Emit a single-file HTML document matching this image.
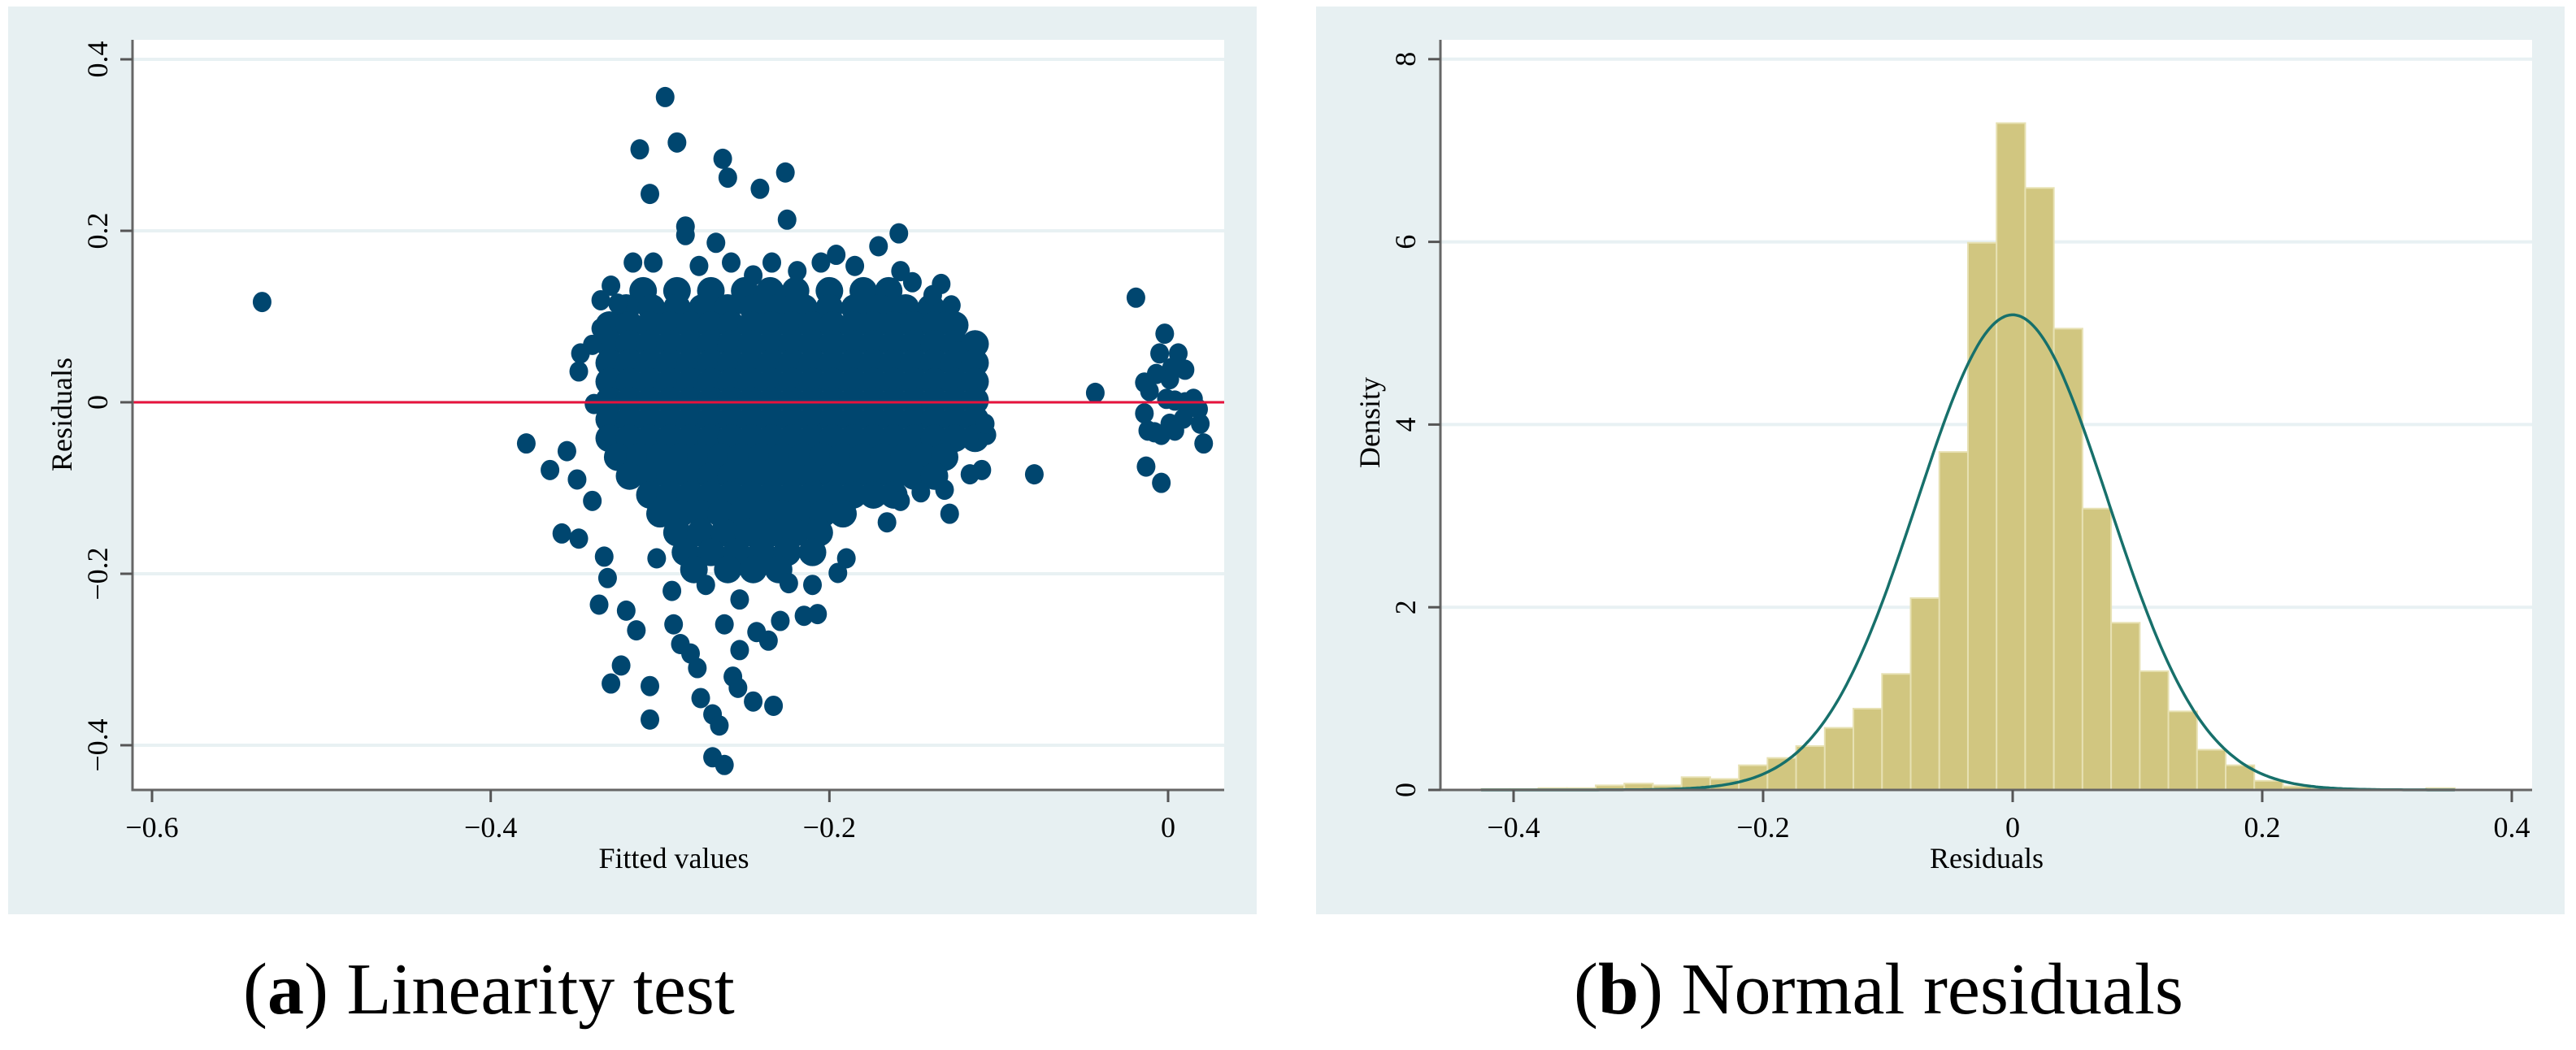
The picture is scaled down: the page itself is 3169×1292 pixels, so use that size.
<!DOCTYPE html>
<html><head><meta charset="utf-8"><style>
html,body{margin:0;padding:0;background:#fff;}
svg{display:block;font-family:"Liberation Serif",serif;}
</style></head><body>
<svg id="fig" width="3169" height="1292" viewBox="0 0 3169 1292" xmlns="http://www.w3.org/2000/svg">
<rect x="10" y="8" width="1536" height="1117" fill="#e7f0f2"/>
<rect x="1619" y="8" width="1536" height="1117" fill="#e7f0f2"/>
<rect x="163" y="49" width="1343" height="923" fill="#ffffff"/>
<rect x="1772" y="49" width="1343" height="923" fill="#ffffff"/>
<g id="left"></g>
<g id="right"></g>
<text x="299" y="1247" font-size="90" fill="#000">(<tspan font-weight="bold">a</tspan>) Linearity test</text>
<text x="1936" y="1247" font-size="90" fill="#000">(<tspan font-weight="bold">b</tspan>) Normal residuals</text>
</svg>
<script>
// ---------- Scatter data (fitted values vs residuals) ----------
const xTicksA = [-0.6, -0.4, -0.2, 0];
const xTickLabelsA = ["\u22120.6", "\u22120.4", "\u22120.2", "0"];
const yTicksA = [-0.4, -0.2, 0, 0.2, 0.4];
const yTickLabelsA = ["\u22120.4", "\u22120.2", "0", "0.2", "0.4"];
const coreResiduals = [0.13, 0.11, 0.09, 0.068, 0.046, 0.024, 0.002, -0.020, -0.042, -0.064, -0.086, -0.108, -0.13, -0.152, -0.175, -0.195];
const coreFitted = [
 [-0.31,-0.29,-0.27,-0.25,-0.235,-0.22,-0.20,-0.18,-0.165],
 [-0.32,-0.305,-0.29,-0.275,-0.26,-0.245,-0.23,-0.215,-0.20,-0.185,-0.17,-0.155,-0.14],
 [-0.33,-0.318,-0.306,-0.294,-0.282,-0.27,-0.258,-0.246,-0.234,-0.222,-0.21,-0.198,-0.186,-0.174,-0.162,-0.15,-0.138,-0.126],
 [-0.33,-0.318,-0.306,-0.294,-0.282,-0.27,-0.258,-0.246,-0.234,-0.222,-0.21,-0.198,-0.186,-0.174,-0.162,-0.15,-0.138,-0.126,-0.114],
 [-0.33,-0.318,-0.306,-0.294,-0.282,-0.27,-0.258,-0.246,-0.234,-0.222,-0.21,-0.198,-0.186,-0.174,-0.162,-0.15,-0.138,-0.126,-0.114],
 [-0.33,-0.318,-0.306,-0.294,-0.282,-0.27,-0.258,-0.246,-0.234,-0.222,-0.21,-0.198,-0.186,-0.174,-0.162,-0.15,-0.138,-0.126,-0.114],
 [-0.33,-0.318,-0.306,-0.294,-0.282,-0.27,-0.258,-0.246,-0.234,-0.222,-0.21,-0.198,-0.186,-0.174,-0.162,-0.15,-0.138,-0.126,-0.114],
 [-0.33,-0.318,-0.306,-0.294,-0.282,-0.27,-0.258,-0.246,-0.234,-0.222,-0.21,-0.198,-0.186,-0.174,-0.162,-0.15,-0.138,-0.126,-0.114],
 [-0.33,-0.318,-0.306,-0.294,-0.282,-0.27,-0.258,-0.246,-0.234,-0.222,-0.21,-0.198,-0.186,-0.174,-0.162,-0.15,-0.138,-0.126,-0.114],
 [-0.325,-0.312,-0.3,-0.288,-0.276,-0.264,-0.252,-0.24,-0.228,-0.216,-0.204,-0.192,-0.18,-0.168,-0.156,-0.144,-0.132],
 [-0.318,-0.306,-0.294,-0.282,-0.27,-0.258,-0.246,-0.234,-0.222,-0.21,-0.198,-0.186,-0.174,-0.162,-0.15,-0.138],
 [-0.306,-0.294,-0.282,-0.27,-0.258,-0.246,-0.234,-0.222,-0.21,-0.198,-0.186,-0.174,-0.162],
 [-0.30,-0.288,-0.276,-0.264,-0.252,-0.24,-0.228,-0.216,-0.204,-0.192],
 [-0.29,-0.276,-0.262,-0.248,-0.234,-0.22,-0.206],
 [-0.285,-0.27,-0.255,-0.24,-0.225,-0.21],
 [-0.28,-0.26,-0.245,-0.23]
];
const outlierPoints = [
 [-0.535,0.117],[-0.297,0.356],[-0.312,0.295],[-0.290,0.303],[-0.263,0.284],[-0.260,0.262],[-0.226,0.268],[-0.241,0.249],
 [-0.306,0.243],[-0.225,0.213],[-0.285,0.195],[-0.285,0.205],[-0.267,0.186],[-0.304,0.163],[-0.316,0.163],[-0.329,0.136],[-0.335,0.119],
 [-0.159,0.197],[-0.171,0.182],[-0.196,0.172],[-0.205,0.163],[-0.234,0.163],[-0.219,0.153],[-0.258,0.163],[-0.277,0.159],
 [-0.245,0.148],[-0.185,0.159],[-0.158,0.153],[-0.151,0.140],[-0.134,0.138],[-0.139,0.125],[-0.128,0.113],[-0.124,0.059],[-0.132,0.094],
 [-0.347,0.057],[-0.348,0.036],[-0.340,0.067],[-0.335,0.086],[-0.325,0.115],[-0.339,-0.002],[-0.379,-0.048],[-0.355,-0.057],
 [-0.365,-0.079],[-0.349,-0.090],[-0.358,-0.153],[-0.348,-0.159],[-0.340,-0.115],[-0.333,-0.180],[-0.331,-0.205],[-0.336,-0.236],
 [-0.320,-0.243],[-0.314,-0.266],[-0.323,-0.307],[-0.306,-0.331],[-0.329,-0.328],[-0.306,-0.370],[-0.288,-0.282],[-0.292,-0.259],
 [-0.282,-0.293],[-0.278,-0.310],[-0.276,-0.345],[-0.269,-0.364],[-0.265,-0.377],[-0.269,-0.414],[-0.262,-0.423],[-0.257,-0.320],
 [-0.254,-0.333],[-0.245,-0.349],[-0.233,-0.354],[-0.236,-0.278],[-0.224,-0.211],[-0.210,-0.213],[-0.215,-0.249],[-0.207,-0.247],
 [-0.195,-0.199],[-0.190,-0.182],[-0.229,-0.255],[-0.253,-0.289],[-0.243,-0.268],[-0.262,-0.259],[-0.253,-0.230],[-0.273,-0.213],
 [-0.293,-0.220],[-0.302,-0.182],[-0.166,-0.140],[-0.158,-0.115],[-0.146,-0.105],[-0.132,-0.102],[-0.129,-0.130],[-0.117,-0.084],
 [-0.110,-0.079],[-0.107,-0.038],[-0.108,-0.025],[-0.079,-0.084],[-0.043,0.011],
 [-0.019,0.122],[-0.002,0.080],[-0.005,0.057],[0.006,0.057],[0.010,0.038],[0.002,0.040],[-0.007,0.033],[-0.014,0.023],
 [-0.011,0.013],[0.001,0.027],[-0.001,0.004],[0.004,0.002],[0.010,0.000],[0.015,0.004],[0.018,-0.008],[-0.014,-0.013],
 [-0.012,-0.033],[-0.008,-0.035],[0.001,-0.025],[0.009,-0.019],[0.019,-0.025],[0.021,-0.048],[-0.013,-0.075],[-0.004,-0.094],
 [-0.004,-0.038],[0.004,-0.033]
];

// ---------- Histogram data ----------
const xTicksB = [-0.4, -0.2, 0, 0.2, 0.4];
const xTickLabelsB = ["\u22120.4", "\u22120.2", "0", "0.2", "0.4"];
const yTicksB = [0, 2, 4, 6, 8];
const yTickLabelsB = ["0", "2", "4", "6", "8"];
const binStart = -0.426;
const binWidth = 0.02295;
const densities = [0.01,0.01,0.02,0.02,0.05,0.07,0.05,0.14,0.12,0.27,0.35,0.48,0.68,0.89,1.27,2.10,3.70,5.99,
                   7.30,6.59,5.05,3.08,1.83,1.30,0.86,0.44,0.27,0.10,0.04,0.02,0.01,0.01,0.00,0.02];
const normalMean = 0.0;
const normalSd = 0.0767;

const NS = "http://www.w3.org/2000/svg";
function mk(tag, attrs, parent) {
  const e = document.createElementNS(NS, tag);
  for (const k in attrs) e.setAttribute(k, attrs[k]);
  parent.appendChild(e);
  return e;
}

// ---------- Left chart ----------
const L = document.getElementById('left');
const axA = { x0: 163, x1: 1506, y0: 49, y1: 972 };
const sxA = v => 1437 + (v - 0) * 2083.3;
const syA = v => 495 - v * 1055;

yTicksA.forEach((t, i) => {
  const g = mk('line', {x1: axA.x0, x2: axA.x1, y1: syA(t), y2: syA(t), stroke: '#e8f1f3', 'stroke-width': 4}, L);
  
  
});
const pts = mk('g', {fill: '#00466f'}, L);


coreResiduals.forEach((r, i) => {
  coreFitted[i].forEach(f => {
    const c = mk('ellipse', {cx: sxA(f), cy: syA(r), rx: 17, ry: 17}, pts);
    
    
  });
});
outlierPoints.forEach(p => {
  const c = mk('ellipse', {cx: sxA(p[0]), cy: syA(p[1]), rx: 11.5, ry: 12.5}, pts);
  
  
});
const zl = mk('line', {x1: axA.x0, x2: axA.x1, y1: syA(0), y2: syA(0), stroke: '#e8123c', 'stroke-width': 3}, L);


const ayA = mk('line', {x1: axA.x0, x2: axA.x0, y1: axA.y0, y2: axA.y1 + 1.5, stroke: '#666', 'stroke-width': 3}, L);


const axxA = mk('line', {x1: axA.x0, x2: axA.x1, y1: axA.y1, y2: axA.y1, stroke: '#666', 'stroke-width': 3}, L);


xTicksA.forEach((t, i) => {
  const tk = mk('line', {x1: sxA(t), x2: sxA(t), y1: axA.y1, y2: axA.y1 + 15, stroke: '#555', 'stroke-width': 3}, L);
  
  
  const tx = mk('text', {x: sxA(t), y: 1030, 'text-anchor': 'middle', 'font-size': 36, fill: '#000'}, L);
  tx.textContent = xTickLabelsA[i];
  
  
});
yTicksA.forEach((t, i) => {
  const tk = mk('line', {x1: axA.x0 - 15, x2: axA.x0, y1: syA(t), y2: syA(t), stroke: '#555', 'stroke-width': 3}, L);
  
  
  const tx = mk('text', {x: 0, y: 0, 'text-anchor': 'middle', 'font-size': 36, fill: '#000',
    transform: `translate(132,${syA(t)}) rotate(-90)`}, L);
  tx.textContent = yTickLabelsA[i];
  
  
});
const xtA = mk('text', {x: 829, y: 1068, 'text-anchor': 'middle', 'font-size': 36, fill: '#000'}, L);
xtA.textContent = 'Fitted values';


const ytA = mk('text', {x: 0, y: 0, 'text-anchor': 'middle', 'font-size': 36, fill: '#000', transform: 'translate(88,510) rotate(-90)'}, L);
ytA.textContent = 'Residuals';



// ---------- Right chart ----------
const R = document.getElementById('right');
const axB = { x0: 1772, x1: 3115, y0: 49, y1: 972 };
const sxB = v => 2476 + v * 1535;
const syB = v => 972 - v * 112.4;

yTicksB.forEach(t => {
  if (t === 0) return;
  const g = mk('line', {x1: axB.x0, x2: axB.x1, y1: syB(t), y2: syB(t), stroke: '#e8f1f3', 'stroke-width': 4}, R);
  
  
});
densities.forEach((d, i) => {
  const a = binStart + i * binWidth;
  const x0 = sxB(a), x1 = sxB(a + binWidth);
  const b = mk('rect', {x: x0, y: syB(d), width: x1 - x0, height: Math.max(0, syB(0) - syB(d)),
    fill: '#d1c680', stroke: '#e7e1b3', 'stroke-width': 2}, R);
  
  
});
let dpath = '';
const cStart = binStart, cEnd = binStart + densities.length * binWidth;
for (let k = 0; k <= 400; k++) {
  const v = cStart + (cEnd - cStart) * k / 400;
  const z = (v - normalMean) / normalSd;
  const dens = Math.exp(-0.5 * z * z) / (normalSd * Math.sqrt(2 * Math.PI));
  dpath += (k ? 'L' : 'M') + sxB(v).toFixed(1) + ',' + syB(dens).toFixed(1);
}
const curve = mk('path', {d: dpath, fill: 'none', stroke: '#17706b', 'stroke-width': 3.5}, R);


const ayB = mk('line', {x1: axB.x0, x2: axB.x0, y1: axB.y0, y2: axB.y1 + 1.5, stroke: '#666', 'stroke-width': 3}, R);


const axxB = mk('line', {x1: axB.x0, x2: axB.x1, y1: axB.y1, y2: axB.y1, stroke: '#666', 'stroke-width': 3}, R);


xTicksB.forEach((t, i) => {
  const tk = mk('line', {x1: sxB(t), x2: sxB(t), y1: axB.y1, y2: axB.y1 + 15, stroke: '#555', 'stroke-width': 3}, R);
  
  
  const tx = mk('text', {x: sxB(t), y: 1030, 'text-anchor': 'middle', 'font-size': 36, fill: '#000'}, R);
  tx.textContent = xTickLabelsB[i];
  
  
});
yTicksB.forEach((t, i) => {
  const tk = mk('line', {x1: axB.x0 - 15, x2: axB.x0, y1: syB(t), y2: syB(t), stroke: '#555', 'stroke-width': 3}, R);
  
  
  const tx = mk('text', {x: 0, y: 0, 'text-anchor': 'middle', 'font-size': 36, fill: '#000',
    transform: `translate(1741,${syB(t)}) rotate(-90)`}, R);
  tx.textContent = yTickLabelsB[i];
  
  
});
const xtB = mk('text', {x: 2444, y: 1068, 'text-anchor': 'middle', 'font-size': 36, fill: '#000'}, R);
xtB.textContent = 'Residuals';


const ytB = mk('text', {x: 0, y: 0, 'text-anchor': 'middle', 'font-size': 36, fill: '#000', transform: 'translate(1697,520) rotate(-90)'}, R);
ytB.textContent = 'Density';


</script>
</body></html>
